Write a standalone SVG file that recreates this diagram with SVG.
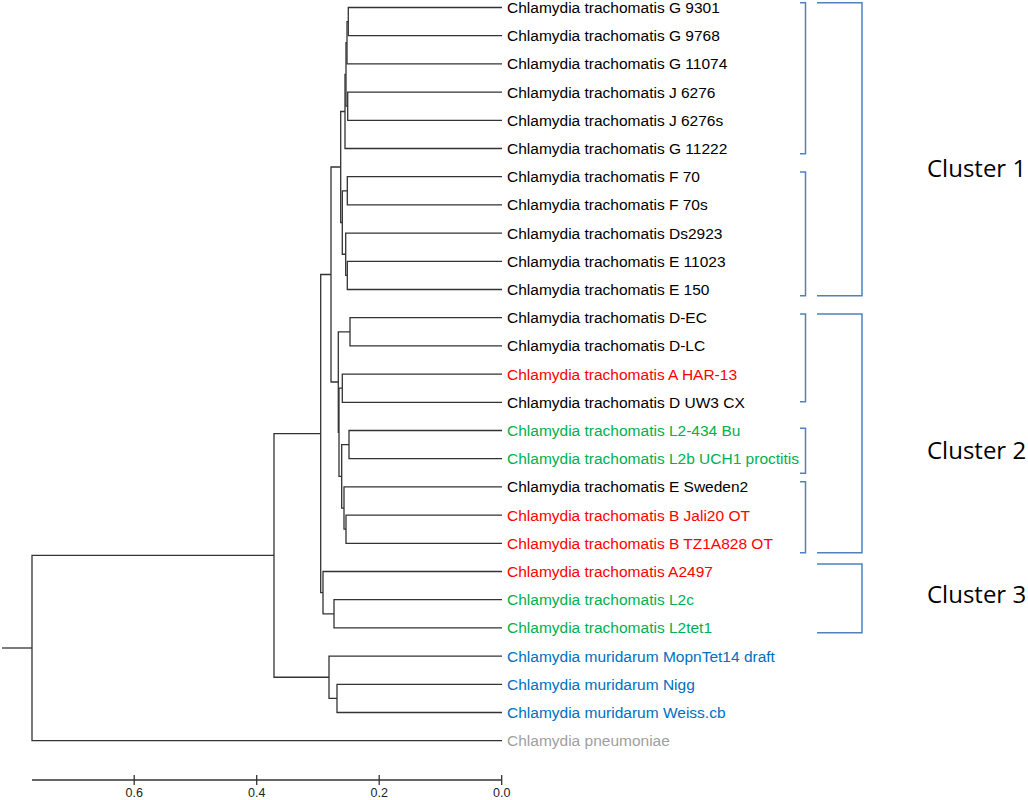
<svg xmlns="http://www.w3.org/2000/svg" width="1028" height="800" viewBox="0 0 1028 800">
<style>
.br{fill:none;stroke:#333;stroke-width:1.3}
.bk{fill:none;stroke:#4f81bd;stroke-width:1.5}
.lb{font-family:"Liberation Sans",Arial,sans-serif;font-size:15.5px}
.k{fill:#000}.r{fill:#ff0000}.g{fill:#00b050}.b{fill:#0070c0}.y{fill:#a0a0a0}
.cl{font-family:"Open Sans","Noto Sans",sans-serif;font-size:24px;fill:#000}
.ax{font-family:"Liberation Sans",Arial,sans-serif;font-size:12.5px;fill:#222;text-anchor:middle}
</style>
<rect width="1028" height="800" fill="#fff"/>
<g id="connectors">
<path class="br" d="M502 7.5H348.3V35.7H502"/>
<path class="br" d="M348.3 21.6H347V63.9H502"/>
<path class="br" d="M502 92.1H347.7V120.3H502"/>
<path class="br" d="M347 42.75H346V106.2H347.7"/>
<path class="br" d="M346 74.5H345V148.5H502"/>
<path class="br" d="M502 176.7H347.3V204.9H502"/>
<path class="br" d="M502 261.3H347.3V289.5H502"/>
<path class="br" d="M502 233.1H345.7V275.4H347.3"/>
<path class="br" d="M347.3 190.8H342.3V254.25H345.7"/>
<path class="br" d="M345 111.5H340.7V222.5H342.3"/>
<path class="br" d="M502 317.7H350V345.9H502"/>
<path class="br" d="M502 374.1H342.3V402.3H502"/>
<path class="br" d="M502 430.5H349V458.7H502"/>
<path class="br" d="M502 515.1H346V543.3H502"/>
<path class="br" d="M502 486.9H344V529.2H346"/>
<path class="br" d="M349 444.6H341.7V508.05H344"/>
<path class="br" d="M342.3 388.2H339V476.3H341.7"/>
<path class="br" d="M350 331.8H338.3V432.25H339"/>
<path class="br" d="M340.7 167H331V382H338.3"/>
<path class="br" d="M502 599.7H334V627.9H502"/>
<path class="br" d="M502 571.5H323V613.8H334"/>
<path class="br" d="M331 274.5H320.7V592.65H323"/>
<path class="br" d="M502 684.3H337V712.5H502"/>
<path class="br" d="M502 656.1H329V698.4H337"/>
<path class="br" d="M320.7 433.6H274V677.25H329"/>
<path class="br" d="M274 555.4H32V740.7H502"/>
<path class="br" d="M2 648H32"/>
</g>
<g id="leaves">
<text class="lb k" x="507" y="13">Chlamydia trachomatis G 9301</text>
<text class="lb k" x="507" y="41.2">Chlamydia trachomatis G 9768</text>
<text class="lb k" x="507" y="69.4">Chlamydia trachomatis G 11074</text>
<text class="lb k" x="507" y="97.6">Chlamydia trachomatis J 6276</text>
<text class="lb k" x="507" y="125.8">Chlamydia trachomatis J 6276s</text>
<text class="lb k" x="507" y="154">Chlamydia trachomatis G 11222</text>
<text class="lb k" x="507" y="182.2">Chlamydia trachomatis F 70</text>
<text class="lb k" x="507" y="210.4">Chlamydia trachomatis F 70s</text>
<text class="lb k" x="507" y="238.6">Chlamydia trachomatis Ds2923</text>
<text class="lb k" x="507" y="266.8">Chlamydia trachomatis E 11023</text>
<text class="lb k" x="507" y="295">Chlamydia trachomatis E 150</text>
<text class="lb k" x="507" y="323.2">Chlamydia trachomatis D-EC</text>
<text class="lb k" x="507" y="351.4">Chlamydia trachomatis D-LC</text>
<text class="lb r" x="507" y="379.6">Chlamydia trachomatis A HAR-13</text>
<text class="lb k" x="507" y="407.8">Chlamydia trachomatis D UW3 CX</text>
<text class="lb g" x="507" y="436">Chlamydia trachomatis L2-434 Bu</text>
<text class="lb g" x="507" y="464.2">Chlamydia trachomatis L2b UCH1 proctitis</text>
<text class="lb k" x="507" y="492.4">Chlamydia trachomatis E Sweden2</text>
<text class="lb r" x="507" y="520.6">Chlamydia trachomatis B Jali20 OT</text>
<text class="lb r" x="507" y="548.8">Chlamydia trachomatis B TZ1A828 OT</text>
<text class="lb r" x="507" y="577">Chlamydia trachomatis A2497</text>
<text class="lb g" x="507" y="605.2">Chlamydia trachomatis L2c</text>
<text class="lb g" x="507" y="633.4">Chlamydia trachomatis L2tet1</text>
<text class="lb b" x="507" y="661.6">Chlamydia muridarum MopnTet14 draft</text>
<text class="lb b" x="507" y="689.8">Chlamydia muridarum Nigg</text>
<text class="lb b" x="507" y="718">Chlamydia muridarum Weiss.cb</text>
<text class="lb y" x="507" y="746.2">Chlamydia pneumoniae</text>
</g>
<g id="brackets">
<path class="bk" d="M800 2.7H805.5V153.7H800"/>
<path class="bk" d="M800 172H805.5V295.7H800"/>
<path class="bk" d="M800 314H805.5V401.7H800"/>
<path class="bk" d="M800 428.3H805.5V473.3H800"/>
<path class="bk" d="M800 481.7H805.5V552.7H800"/>
<path class="bk" d="M817 2.7H862V295.7H817"/>
<path class="bk" d="M817 314H862V552.7H817"/>
<path class="bk" d="M817 564H862V632.7H817"/>
</g>
<g id="cluster-labels">
<text class="cl" x="927" y="177">Cluster 1</text>
<text class="cl" x="927" y="459">Cluster 2</text>
<text class="cl" x="927" y="603">Cluster 3</text>
</g>
<g id="scale">
<path class="br" d="M32 780H502M134.2 775V785M256.7 775V785M379.2 775V785M501.7 775V785"/>
<text class="ax" x="134.2" y="797">0.6</text>
<text class="ax" x="256.7" y="797">0.4</text>
<text class="ax" x="379.2" y="797">0.2</text>
<text class="ax" x="501.7" y="797">0.0</text>
</g>
</svg>
